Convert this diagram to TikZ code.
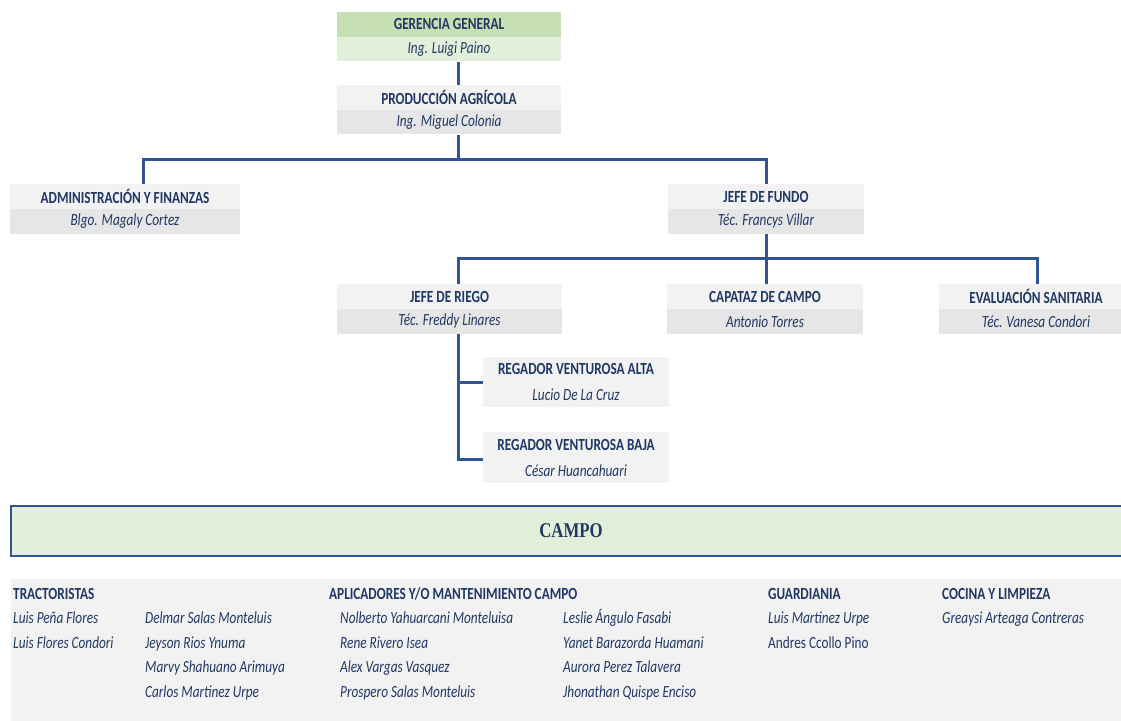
\documentclass[tikz,border=0pt]{standalone}
\usepackage{fontspec}
\newfontfamily\cf[FakeStretch=0.78]{Carlito}
\newfontfamily\cserif[FakeStretch=0.8]{Liberation Serif}
\definecolor{navy}{HTML}{203864}
\definecolor{lnblue}{HTML}{2F5597}
\definecolor{gtop}{HTML}{C6E0B4}
\definecolor{gbot}{HTML}{E2EFDA}
\definecolor{grtop}{HTML}{F2F2F2}
\definecolor{grbot}{HTML}{E6E6E6}
\begin{document}
\begin{tikzpicture}[x=1pt,y=-1pt,
  band/.style={rectangle, inner sep=0, minimum height=24.5, text=navy, font=\cf\fontsize{17}{20}\selectfont},
  conn/.style={draw=lnblue, line width=3},
  lbl/.style={anchor=base west, inner sep=0, text=navy, font=\cf\fontsize{17}{20}\selectfont}]
\clip (0,0) rectangle (1121,720);
\fill[white] (0,0) rectangle (1121,720);

% Gerencia general
\node[band, fill=gtop, minimum width=224] (ggT) at (449,24.25) {\bfseries GERENCIA GENERAL};
\node[band, fill=gbot, minimum width=224, anchor=north] (gg) at (ggT.south) {\itshape Ing. Luigi Paino};
% Produccion agricola
\node[band, fill=grtop, minimum width=224] (paT) at (449,97.25) {\bfseries PRODUCCIÓN AGRÍCOLA};
\node[band, fill=grbot, minimum width=224, anchor=north] (pa) at (paT.south) {\itshape Ing. Miguel Colonia};
% Administracion
\node[band, fill=grtop, minimum width=230] (admT) at (125,196.5) {\bfseries ADMINISTRACIÓN Y FINANZAS};
\node[band, fill=grbot, minimum width=230, anchor=north] (adm) at (admT.south) {\itshape Blgo. Magaly Cortez};
% Jefe de fundo
\node[band, fill=grtop, minimum width=196] (jfT) at (766,196.5) {\bfseries JEFE DE FUNDO};
\node[band, fill=grbot, minimum width=196, anchor=north] (jf) at (jfT.south) {\itshape Téc. Francys Villar};
% Jefe de riego
\node[band, fill=grtop, minimum width=225] (jrT) at (449.5,296.5) {\bfseries JEFE DE RIEGO};
\node[band, fill=grbot, minimum width=225, anchor=north] (jr) at (jrT.south) {\itshape Téc. Freddy Linares};
% Capataz
\node[band, fill=grtop, minimum width=196] (capT) at (765,296.5) {\bfseries CAPATAZ DE CAMPO};
\node[band, fill=grbot, minimum width=196, anchor=north] (cap) at (capT.south) {\itshape Antonio Torres};
% Evaluacion sanitaria
\node[band, fill=grtop, minimum width=194] (evaT) at (1036,296.5) {\bfseries EVALUACIÓN SANITARIA};
\node[band, fill=grbot, minimum width=194, anchor=north] (eva) at (evaT.south) {\itshape Téc. Vanesa Condori};
% Regadores
\node[band, fill=grtop, minimum width=186, minimum height=50, align=center] (rva) at (576,382)
  {\bfseries REGADOR VENTUROSA ALTA\\[6pt]\itshape Lucio De La Cruz};
\node[band, fill=grtop, minimum width=186, minimum height=51, align=center] (rvb) at (576,457.5)
  {\bfseries REGADOR VENTUROSA BAJA\\[6pt]\itshape César Huancahuari};

% connectors
\coordinate (j1) at (458,159);
\coordinate (j2) at (766,258);
\draw[conn] ([xshift=9]gg.south) -- ([xshift=9]paT.north);
\draw[conn] ([xshift=9]pa.south) -- (j1);
\draw[conn] ([xshift=18]admT.north) |- (j1) -| (jfT.north);
\draw[conn] (jf.south) -- (j2);
\draw[conn] ([xshift=8.5]jrT.north) |- (j2) -| ([xshift=1]evaT.north);
\draw[conn] (j2) -- ([xshift=1]capT.north);
\draw[conn] ([xshift=8.5]jr.south) |- ([yshift=-1.5]rvb.west);
\draw[conn] ([xshift=8.5]jr.south |- rva.west) -- (rva.west);

% CAMPO
\node[draw=lnblue, line width=1.5, fill=gbot, minimum width=1150, minimum height=50, inner sep=0,
  anchor=west] (campo) at (10,531) {};
\node[inner sep=0, text=navy, font=\cserif\bfseries\fontsize{21}{24}\selectfont] (campot) at (571,531) {CAMPO};

% staff area
\node[fill=grtop, inner sep=0, minimum width=1112, minimum height=142, anchor=north west] (staff) at (11,579) {};

\node[lbl] (h1) at (13,599) {\bfseries TRACTORISTAS};
\node[lbl] (a1) at (13,623.5) {\itshape Luis Peña Flores};
\node[lbl] (a2) at (13,648) {\itshape Luis Flores Condori};
\node[lbl] (b1) at (145,623.5) {\itshape Delmar Salas Monteluis};
\node[lbl] (b2) at (145,648) {\itshape Jeyson Rios Ynuma};
\node[lbl] (b3) at (145,672.5) {\itshape Marvy Shahuano Arimuya};
\node[lbl] (b4) at (145,697) {\itshape Carlos Martinez Urpe};

\node[lbl] (h2) at (329,599) {\bfseries APLICADORES Y/O MANTENIMIENTO CAMPO};
\node[lbl] (c1) at (340,623.5) {\itshape Nolberto Yahuarcani Monteluisa};
\node[lbl] (c2) at (340,648) {\itshape Rene Rivero Isea};
\node[lbl] (c3) at (340,672.5) {\itshape Alex Vargas Vasquez};
\node[lbl] (c4) at (340,697) {\itshape Prospero Salas Monteluis};
\node[lbl] (d1) at (563,623.5) {\itshape Leslie Ángulo Fasabi};
\node[lbl] (d2) at (563,648) {\itshape Yanet Barazorda Huamani};
\node[lbl] (d3) at (563,672.5) {\itshape Aurora Perez Talavera};
\node[lbl] (d4) at (563,697) {\itshape Jhonathan Quispe Enciso};

\node[lbl] (h3) at (768,599) {\bfseries GUARDIANIA};
\node[lbl] (e1) at (768,623.5) {\itshape Luis Martinez Urpe};
\node[lbl] (e2) at (768,648) {Andres Ccollo Pino};

\node[lbl] (h4) at (942,599) {\bfseries COCINA Y LIMPIEZA};
\node[lbl] (f1) at (942,623.5) {\itshape Greaysi Arteaga Contreras};
\end{tikzpicture}
\end{document}
